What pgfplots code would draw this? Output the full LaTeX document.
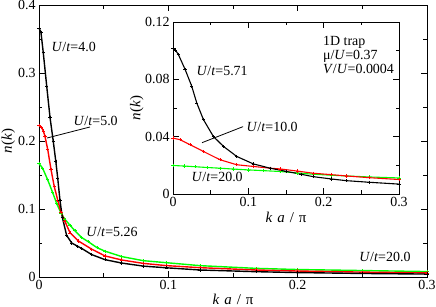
\documentclass[border=0pt]{standalone}
\usepackage{fontspec}
\setmainfont{Liberation Serif}
\usepackage{pgfplots}
\pgfplotsset{compat=1.18}
\definecolor{pgreen}{RGB}{0,255,0}
\definecolor{pred}{RGB}{255,0,0}
\begin{document}
\begin{tikzpicture}
\path[use as bounding box] (-39bp,-30bp) rectangle (397bp,277bp);
\pgfplotsset{
  every axis/.append style={
    scale only axis,
    axis line style={line width=0.9bp},
    tick style={line width=0.7bp, black},
    tick align=inside,
    major tick length=6bp,
    minor tick length=3.5bp,
    tick label style={font=\fontsize{14}{15}\selectfont},
    label style={font=\fontsize{15}{16}\selectfont},
    clip=false,
  },
  mymark/.style={mark=+, mark size=1.6bp, mark options={solid, line width=0.6bp}},
}
% ---------------- main axis ----------------
\begin{axis}[
  at={(0,0)}, anchor=south west,
  width=388bp, height=272bp,
  xmin=0, xmax=0.3, ymin=0, ymax=0.4,
  xtick={0,0.1,0.2,0.3}, xticklabels={0,0.1,0.2,0.3},
  ytick={0,0.1,0.2,0.3,0.4}, yticklabels={0,0.1,0.2,0.3,0.4},
  minor xtick={0.05,0.15,0.25},
  minor ytick={0.05,0.15,0.25,0.35},
  xlabel={\textit{k}\,\,\textit{a}\,\,/\,\,π},
  ylabel={\textit{n}(\textit{k})},
  x label style={at={(axis description cs:0.5,-0.081)}, anchor=center},
  y label style={at={(axis description cs:-0.079,0.5)}, anchor=center},
]
\addplot[pgreen, line width=1.4bp, mymark] coordinates {
(0,0.167) (0.0028,0.160) (0.0067,0.143) (0.0106,0.124) (0.0137,0.108)
(0.017,0.094) (0.020,0.085) (0.024,0.076) (0.0278,0.068) (0.033,0.058)
(0.038,0.052) (0.045,0.043) (0.051,0.038) (0.064,0.030) (0.0807,0.024)
(0.0987,0.021) (0.1245,0.0167) (0.168,0.0127) (0.2,0.011) (0.25,0.0095) (0.3,0.008)
};
\addplot[pred, line width=1.4bp, mymark] coordinates {
(0,0.223) (0.002,0.220) (0.0033,0.215) (0.0046,0.207) (0.0067,0.188)
(0.0093,0.158) (0.0118,0.133) (0.0145,0.113) (0.017,0.095) (0.020,0.082)
(0.024,0.065) (0.0304,0.053) (0.0407,0.041) (0.051,0.031) (0.064,0.025)
(0.0807,0.020) (0.0987,0.0167) (0.1245,0.0137) (0.168,0.0103) (0.2,0.0088)
(0.25,0.0072) (0.3,0.006)
};
\addplot[black, line width=1.4bp, mymark] coordinates {
(0,0.366) (0.0015,0.360) (0.0033,0.33) (0.006,0.28) (0.0085,0.235)
(0.011,0.20) (0.013,0.17) (0.0145,0.145) (0.0162,0.113) (0.018,0.088)
(0.0214,0.061) (0.0253,0.050) (0.030,0.045) (0.033,0.042) (0.0407,0.033)
(0.051,0.0255) (0.064,0.0205) (0.0807,0.016) (0.0987,0.0135) (0.1245,0.0103)
(0.168,0.0078) (0.2,0.0065) (0.25,0.0052) (0.3,0.0043)
};
\node[anchor=west, font=\fontsize{14}{15}\selectfont] at (axis cs:0.007,0.338) {\textit{U}/\textit{t}=4.0};
\node[anchor=west, font=\fontsize{14}{15}\selectfont] at (axis cs:0.024,0.229) {\textit{U}/\textit{t}=5.0};
\draw[line width=0.8bp] (axis cs:0.0394,0.2206) -- (axis cs:0.0062,0.2044);
\node[anchor=west, font=\fontsize{14}{15}\selectfont] at (axis cs:0.034,0.066) {\textit{U}/\textit{t}=5.26};
\node[anchor=west, font=\fontsize{14}{15}\selectfont] at (axis cs:0.245,0.029) {\textit{U}/\textit{t}=20.0};
\end{axis}
% ---------------- inset ----------------
\begin{axis}[
  at={(134bp,83bp)}, anchor=south west,
  width=226bp, height=172bp,
  axis background/.style={fill=white},
  xmin=0, xmax=0.3, ymin=0, ymax=0.12,
  xtick={0,0.1,0.2,0.3}, xticklabels={0,0.1,0.2,0.3},
  ytick={0,0.04,0.08,0.12}, yticklabels={0,0.04,0.08,0.12},
  minor xtick={0.05,0.15,0.25},
  minor ytick={0.02,0.06,0.10},
  xlabel={\textit{k}\,\,\textit{a}\,\,/\,\,π},
  ylabel={\textit{n}(\textit{k})},
  x label style={at={(axis description cs:0.5,-0.134)}, anchor=center},
  y label style={at={(axis description cs:-0.16,0.5)}, anchor=center},
]
\addplot[pgreen, line width=1.1bp, mymark] coordinates {
(0,0.0199) (0.015,0.0195) (0.03,0.019) (0.045,0.0185) (0.0624,0.018) (0.08,0.0174) (0.1,0.0168)
(0.12,0.0163) (0.142,0.0157) (0.165,0.0147) (0.186,0.0138) (0.21,0.0131) (0.23,0.0126)
(0.26,0.0119) (0.3,0.0112)
};
\addplot[pred, line width=1.1bp, mymark] coordinates {
(0,0.039) (0.0093,0.0379) (0.0226,0.0344) (0.0403,0.0297) (0.0624,0.0239)
(0.0846,0.0204) (0.107,0.0192) (0.129,0.018) (0.142,0.0175) (0.165,0.016)
(0.186,0.0145) (0.21,0.0135) (0.23,0.0126) (0.26,0.0114) (0.3,0.0101)
};
\addplot[black, line width=1.1bp, mymark] coordinates {
(0,0.1015) (0.003,0.1005) (0.007,0.0975) (0.016,0.087) (0.0248,0.0753)
(0.0315,0.0636) (0.0403,0.052) (0.0535,0.0402) (0.067,0.0332) (0.0846,0.0262)
(0.1066,0.021) (0.129,0.018) (0.15,0.0158) (0.17,0.0138) (0.186,0.0121)
(0.21,0.0105) (0.23,0.0093) (0.26,0.0082) (0.3,0.0069)
};
\node[anchor=west, font=\fontsize{14}{15}\selectfont] at (axis cs:0.0266,0.0856) {\textit{U}/\textit{t}=5.71};
\node[anchor=west, font=\fontsize{14}{15}\selectfont] at (axis cs:0.093,0.047) {\textit{U}/\textit{t}=10.0};
\draw[line width=0.8bp] (axis cs:0.093,0.047) -- (axis cs:0.0385,0.0358);
\node[anchor=west, font=\fontsize{14}{15}\selectfont] at (axis cs:0.02,0.012) {\textit{U}/\textit{t}=20.0};
\node[anchor=north west, align=left, inner sep=0pt, font=\fontsize{14}{14.5}\selectfont] at (axis cs:0.199,0.1105)
  {1D trap\\μ/\textit{U}=0.37\\\textit{V}/\textit{U}=0.0004};
\end{axis}
\end{tikzpicture}
\end{document}
